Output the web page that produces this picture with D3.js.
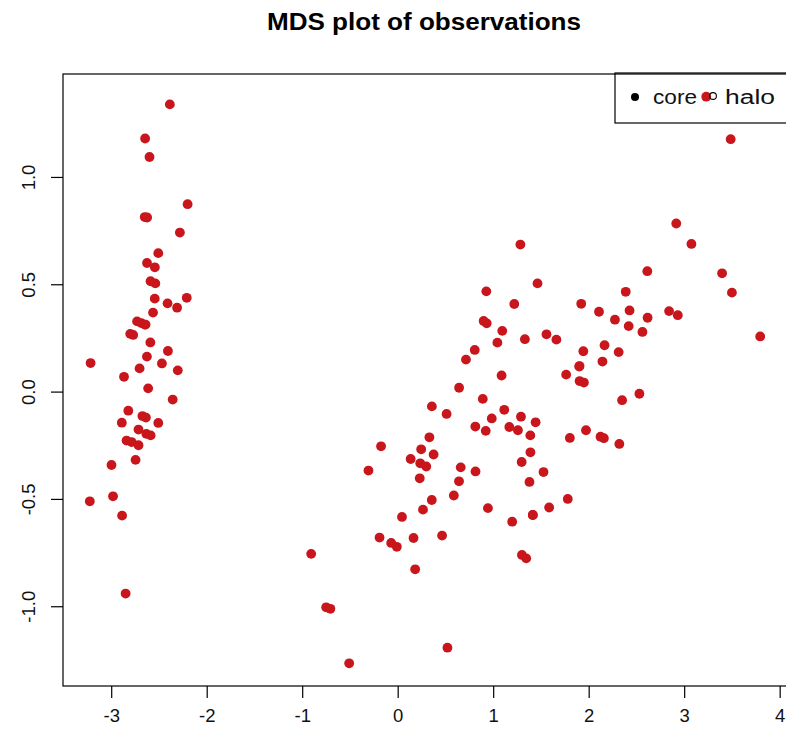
<!DOCTYPE html>
<html>
<head>
<meta charset="utf-8">
<script src="https://cdn.jsdelivr.net/npm/d3@7/dist/d3.min.js"></script>
<style>
  html, body { margin: 0; padding: 0; background: #fff; }
  svg { display: block; }
  text { font-family: "Liberation Sans", Arial, sans-serif; }
</style>
</head>
<body>
<script>
// MDS coordinates of the 150 observations (dimension 1, dimension 2)
const dim1 = [
  -2.684, -2.714, -2.889, -2.745, -2.729, -2.281, -2.821, -2.626, -2.886, -2.673,
  -2.507, -2.613, -2.786, -3.224, -2.645, -2.386, -2.624, -2.648, -2.200, -2.588,
  -2.310, -2.544, -3.216, -2.303, -2.356, -2.507, -2.469, -2.562, -2.640, -2.632,
  -2.587, -2.410, -2.649, -2.599, -2.637, -2.866, -2.625, -2.801, -2.981, -2.590,
  -2.770, -2.849, -2.997, -2.406, -2.209, -2.714, -2.538, -2.839, -2.543, -2.703,
   1.285,  0.932,  1.464,  0.183,  1.088,  0.642,  1.095, -0.749,  1.044, -0.009,
  -0.508,  0.512,  0.265,  0.985, -0.174,  0.928,  0.660,  0.236,  0.945,  0.045,
   1.116,  0.358,  1.298,  0.922,  0.715,  0.900,  1.332,  1.558,  0.813, -0.306,
  -0.068, -0.190,  0.136,  1.380,  0.588,  0.807,  1.221,  0.815,  0.246,  0.166,
   0.465,  0.891,  0.231, -0.705,  0.357,  0.332,  0.376,  0.643, -0.906,  0.299,
   2.531,  1.415,  2.617,  1.972,  2.350,  3.397,  0.521,  2.933,  2.321,  2.917,
   1.662,  1.803,  2.166,  1.346,  1.586,  1.904,  1.950,  3.487,  3.796,  1.301,
   2.428,  1.199,  3.500,  1.389,  2.275,  2.614,  1.259,  1.291,  2.124,  2.388,
   2.842,  3.231,  2.159,  1.444,  1.781,  3.076,  2.144,  1.905,  1.169,  2.108,
   2.314,  1.922,  1.415,  2.563,  2.419,  1.944,  1.527,  1.764,  1.901,  1.390
];
const dim2 = [
   0.319, -0.177, -0.145, -0.318,  0.327,  0.741, -0.089,  0.163, -0.578, -0.114,
   0.645,  0.015, -0.235, -0.511,  1.179,  1.338,  0.811,  0.312,  0.873,  0.514,
   0.391,  0.433,  0.133,  0.099, -0.037, -0.146,  0.131,  0.368,  0.312, -0.197,
  -0.204,  0.411,  0.813,  1.093, -0.121,  0.069,  0.599,  0.269, -0.488,  0.229,
   0.264, -0.941, -0.342,  0.189,  0.437, -0.250,  0.504, -0.228,  0.579,  0.108,
   0.685,  0.318,  0.504, -0.828,  0.075, -0.418,  0.283, -1.005,  0.228, -0.723,
  -1.266, -0.104, -0.550, -0.125, -0.255,  0.467, -0.353, -0.334, -0.543, -0.584,
  -0.085, -0.069, -0.328, -0.183,  0.149,  0.329,  0.244,  0.267, -0.163, -0.368,
  -0.705, -0.680, -0.314, -0.421, -0.484,  0.194,  0.408, -0.372, -0.269, -0.682,
  -0.671, -0.034, -0.404, -1.012, -0.505, -0.213, -0.293,  0.018, -0.756, -0.349,
  -0.010, -0.575,  0.344, -0.180, -0.040,  0.551, -1.193,  0.356, -0.244,  0.783,
   0.242, -0.216,  0.216, -0.777, -0.540,  0.119,  0.042,  1.176,  0.257, -0.761,
   0.378, -0.606,  0.461, -0.204,  0.335,  0.561, -0.180, -0.117, -0.210,  0.465,
   0.375,  1.374, -0.217, -0.143, -0.500,  0.688,  0.140,  0.049, -0.165,  0.372,
   0.184,  0.409, -0.575,  0.278,  0.305,  0.188, -0.375,  0.079,  0.117, -0.283
];
const xTicks = [-3, -2, -1, 0, 1, 2, 3, 4];
const yTicks = [-1.0, -0.5, 0.0, 0.5, 1.0];
const legendLabels = ["core", "halo"];
const chartTitle = "MDS plot of observations";

const W = 786, H = 738;
const plot = { left: 63, right: 787, top: 74, bottom: 686 };
const pointColor = "#c8161c";

// axis limits padded by 4% of the data range on each side
function padded(ext) {
  const p = (ext[1] - ext[0]) * 0.04;
  return [ext[0] - p, ext[1] + p];
}
const x = d3.scaleLinear().domain(padded(d3.extent(dim1))).range([plot.left, plot.right]);
const y = d3.scaleLinear().domain(padded(d3.extent(dim2))).range([plot.bottom, plot.top]);

// tick labels with a plain ASCII hyphen for negatives
const hyphen = f => v => f(v).replace("\u2212", "-");

const svg = d3.select("body").append("svg")
  .attr("width", W).attr("height", H);

// title
svg.append("text")
  .attr("x", 424).attr("y", 30)
  .attr("text-anchor", "middle")
  .attr("font-size", 23).attr("font-weight", "bold")
  .attr("textLength", 314).attr("lengthAdjust", "spacingAndGlyphs")
  .attr("fill", "#000")
  .text(chartTitle);

// bottom axis
const xAxis = d3.axisBottom(x).tickValues(xTicks).tickSize(12).tickSizeOuter(0)
  .tickFormat(hyphen(d3.format("d")));
const gx = svg.append("g").attr("transform", `translate(0,${plot.bottom})`).call(xAxis);
gx.select(".domain").remove();
gx.selectAll(".tick line").attr("stroke", "#000").attr("stroke-width", 1.2);
gx.selectAll(".tick text")
  .attr("font-size", 18.5).attr("font-family", "Liberation Sans, Arial, sans-serif")
  .attr("y", 23).attr("dy", "0.71em").attr("fill", "#111");

// left axis, labels rotated parallel to the axis
const yAxis = d3.axisLeft(y).tickValues(yTicks).tickSize(12).tickSizeOuter(0)
  .tickFormat(hyphen(d3.format(".1f")));
const gy = svg.append("g").attr("transform", `translate(${plot.left},0)`).call(yAxis);
gy.select(".domain").remove();
gy.selectAll(".tick line").attr("stroke", "#000").attr("stroke-width", 1.2);
gy.selectAll(".tick text")
  .attr("font-size", 18.5).attr("font-family", "Liberation Sans, Arial, sans-serif")
  .attr("x", 0).attr("dy", 0).attr("fill", "#111")
  .attr("text-anchor", "middle")
  .attr("transform", "translate(-34,0) rotate(-90)")
  .attr("y", 6);

// plot frame
svg.append("rect")
  .attr("x", plot.left).attr("y", plot.top)
  .attr("width", plot.right - plot.left).attr("height", plot.bottom - plot.top)
  .attr("fill", "none").attr("stroke", "#000").attr("stroke-width", 1.2);

// observations
svg.append("g").selectAll("circle")
  .data(dim1.map((d, i) => [d, dim2[i]]))
  .join("circle")
  .attr("cx", d => x(d[0]))
  .attr("cy", d => y(d[1]))
  .attr("r", 4.9)
  .attr("fill", pointColor);

// legend (drawn over the points, no fill)
const lg = svg.append("g");
lg.append("rect")
  .attr("x", 615).attr("y", 73).attr("width", 200).attr("height", 50)
  .attr("fill", "none").attr("stroke", "#000").attr("stroke-width", 1.2);
lg.append("circle").attr("cx", 635).attr("cy", 97).attr("r", 4).attr("fill", "#000");
lg.append("circle").attr("cx", 713).attr("cy", 96).attr("r", 3.4)
  .attr("fill", "none").attr("stroke", "#000").attr("stroke-width", 1.1);
lg.append("text").attr("x", 653).attr("y", 104).attr("font-size", 20).attr("fill", "#111")
  .attr("textLength", 44).attr("lengthAdjust", "spacingAndGlyphs").text(legendLabels[0]);
lg.append("text").attr("x", 725).attr("y", 104).attr("font-size", 20).attr("fill", "#111")
  .attr("textLength", 50).attr("lengthAdjust", "spacingAndGlyphs").text(legendLabels[1]);
</script>
</body>
</html>
